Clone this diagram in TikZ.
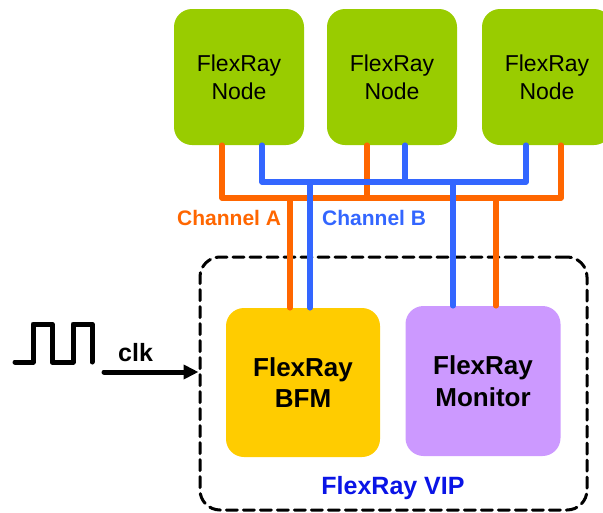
\documentclass[tikz,border=0pt]{standalone}
\usepackage{fontspec}
\setmainfont{Liberation Sans}
\usetikzlibrary{arrows.meta}
\definecolor{nodegreen}{HTML}{99CC00}
\definecolor{bfmyellow}{HTML}{FFCC00}
\definecolor{monpurple}{HTML}{CC99FF}
\definecolor{chaorange}{HTML}{FF6600}
\definecolor{chbblue}{HTML}{3366FF}
\definecolor{vipblue}{HTML}{0A14E6}
\tikzset{
  frnode/.style={fill=nodegreen, rounded corners=18pt, minimum width=130pt, minimum height=136pt,
    align=center, font=\fontsize{23}{28}\selectfont, inner sep=0pt},
  vipblock/.style={rounded corners=18pt, minimum width=154pt, minimum height=149pt,
    align=center, font=\fontsize{26}{31.5}\selectfont\bfseries, inner sep=0pt},
  chanA/.style={draw=chaorange, line width=5.5pt, line cap=round, line join=round},
  chanB/.style={draw=chbblue, line width=5.5pt, line cap=round, line join=round},
  chlabel/.style={font=\fontsize{21}{21}\selectfont\bfseries, anchor=base west, inner sep=0pt},
}
\begin{document}
\begin{tikzpicture}[x=1pt, y=-1pt, line join=round, line cap=round, >={Triangle[length=15pt,width=14pt]}]
  \useasboundingbox (0,0) rectangle (603,512);
  % bus nodes
  \node[frnode] (n1) at (239,77) {FlexRay\\Node};
  \node[frnode] (n2) at (392,77) {FlexRay\\Node};
  \node[frnode] (n3) at (547,77) {FlexRay\\Node};
  % VIP
  \node[draw, dashed, dash pattern=on 11pt off 6pt, line width=3pt, rounded corners=20pt,
    minimum width=387pt, minimum height=253pt, inner sep=0pt] (vip) at (393.5,383.5) {};
  \node[vipblock, fill=bfmyellow] (bfm) at (303,382.5) {FlexRay\\BFM};
  \node[vipblock, fill=monpurple, minimum width=155pt, minimum height=150pt] (mon) at (483,381) {FlexRay\\Monitor};
  \node[font=\fontsize{25}{25}\selectfont\bfseries, text=vipblue, anchor=base, inner sep=0pt] (viplbl) at (393,494) {FlexRay VIP};
  % channel A
  \coordinate (a1) at (222,198);
  \coordinate (a2) at (367,198);
  \coordinate (a3) at (561,198);
  \coordinate (ab) at (290,198);
  \coordinate (am) at (496,198);
  \draw[chanA] (n1.south -| a1) -- (a1) -- (a3) -- (n3.south -| a3);
  \draw[chanA] (n2.south -| a2) -- (a2);
  \draw[chanA] (ab) -- (ab |- bfm.north);
  \draw[chanA] (am) -- (am |- mon.north);
  % channel B
  \coordinate (b1) at (262,182);
  \coordinate (b2) at (405,182);
  \coordinate (b3) at (526,182);
  \coordinate (bb) at (310,182);
  \coordinate (bm) at (453,182);
  \draw[chanB] (n1.south -| b1) -- (b1) -- (b3) -- (n3.south -| b3);
  \draw[chanB] (n2.south -| b2) -- (b2);
  \draw[chanB] (bb) -- (bb |- bfm.north);
  \draw[chanB] (bm) -- (bm |- mon.north);
  \node[chlabel, text=chaorange] (lblA) at (177,225) {Channel A};
  \node[chlabel, text=chbblue] (lblB) at (322,225) {Channel B};
  % clock
  \draw[line width=5pt] (15,362) -- (33,362) -- (33,324) -- (52,324) -- (52,362)
    -- (73,362) -- (73,324) -- (92,324) -- (92,362);
  \coordinate (clkin) at (104,372);
  \draw[->, line width=5pt] (clkin) -- (clkin -| vip.west);
  \node[font=\fontsize{25}{25}\selectfont\bfseries, anchor=base west, inner sep=0pt] (clk) at (118,361) {clk};
\end{tikzpicture}
\end{document}
